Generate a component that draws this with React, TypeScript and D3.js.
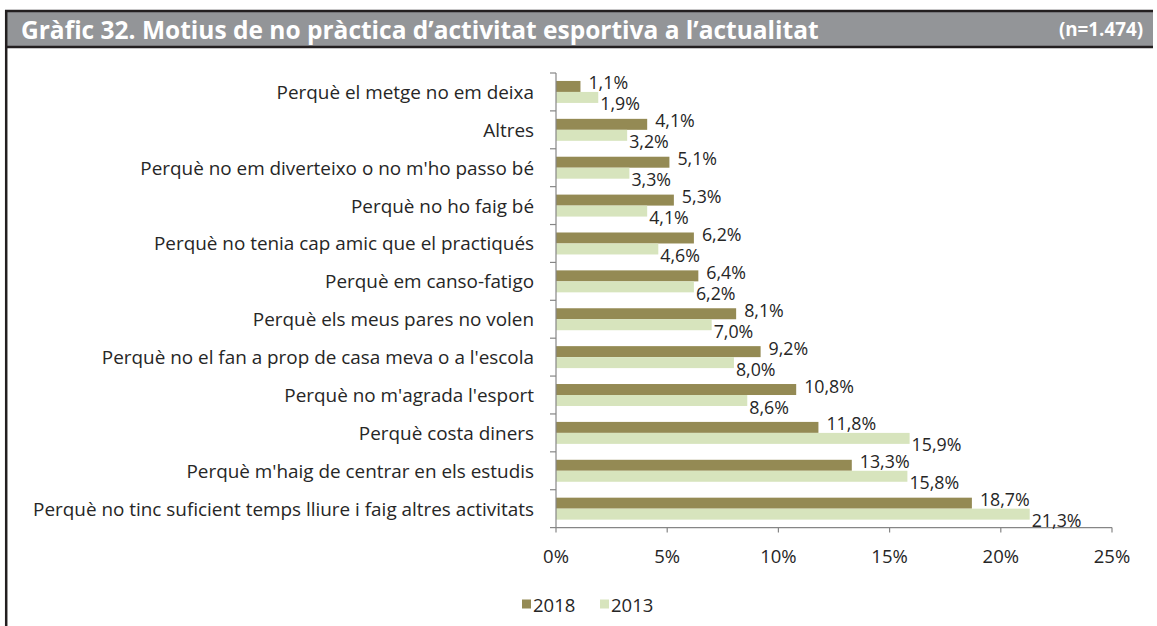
import React from "react";
import * as d3 from "d3";

const categories = [
  "Perquè el metge no em deixa",
  "Altres",
  "Perquè no em diverteixo o no m'ho passo bé",
  "Perquè no ho faig bé",
  "Perquè no tenia cap amic que el practiqués",
  "Perquè em canso-fatigo",
  "Perquè els meus pares no volen",
  "Perquè no el fan a prop de casa meva o a l'escola",
  "Perquè no m'agrada l'esport",
  "Perquè costa diners",
  "Perquè m'haig de centrar en els estudis",
  "Perquè no tinc suficient temps lliure i faig altres activitats",
];
const values2018 = [1.1, 4.1, 5.1, 5.3, 6.2, 6.4, 8.1, 9.2, 10.8, 11.8, 13.3, 18.7];
const values2013 = [1.9, 3.2, 3.3, 4.1, 4.6, 6.2, 7.0, 8.0, 8.6, 15.9, 15.8, 21.3];
const seriesNames = ["2018", "2013"];
const xTicks = [0, 5, 10, 15, 20, 25];
const titleText = "Gràfic 32. Motius de no pràctica d’activitat esportiva a l’actualitat";
const sampleText = "(n=1.474)";

const W = 1157;
const H = 626;
const COLORS: Record<string, string> = { "2018": "#948A54", "2013": "#D7E4BD" };
const FONT = "'Open Sans', sans-serif";
const TEXT = "#262626";
const FS = 18.9;
const FSV = 17.8;

const locale = d3.formatLocale({ decimal: ",", thousands: ".", grouping: [3], currency: ["", "€"] });
const fmt1 = locale.format(".1f");

export default function App() {
  const x = d3.scaleLinear().domain([0, 25]).range([556, 1112]);
  const y = d3.scaleBand().domain(categories).range([73, 527.6]).paddingInner(0.42).paddingOuter(0.21);
  const ySub = d3.scaleBand().domain(seriesNames).range([0, y.bandwidth()]);
  const series: Record<string, number[]> = { "2018": values2018, "2013": values2013 };
  const step = y.step();
  const axisTop = 73;
  const axisBottom = 527.6;
  const boundaries = d3.range(categories.length + 1).map((i) => axisTop + i * step);

  return (
    <div style={{ position: "absolute", left: 0, top: 0 }}>
      <svg width={W} height={H} style={{ display: "block", background: "#fff" }}>
        {/* Title bar */}
        <rect x={5} y={10} width={1148} height={37.5} fill="#939598" />
        <line x1={5} x2={1153} y1={11} y2={11} stroke="#231F20" strokeWidth={2.5} />
        <line x1={5} x2={1153} y1={47} y2={47} stroke="#231F20" strokeWidth={2.5} />
        <line x1={6.2} x2={6.2} y1={10} y2={626} stroke="#231F20" strokeWidth={2.5} />
        <text x={21} y={29} dominantBaseline="central" fill="#fff" fontFamily={FONT} fontWeight={700} fontSize={24.5}>
          {titleText}
        </text>
        <text x={1143} y={29} dominantBaseline="central" textAnchor="end" fill="#fff" fontFamily={FONT} fontWeight={700} fontSize={18.8}>
          {sampleText}
        </text>

        {/* Bars */}
        {seriesNames.map((s) =>
          categories.map((c, i) => (
            <rect
              key={s + c}
              x={x(0)}
              y={(y(c) as number) + (ySub(s) as number)}
              width={x(series[s][i]) - x(0)}
              height={ySub.bandwidth()}
              fill={COLORS[s]}
            />
          ))
        )}

        {/* Axes */}
        <line x1={x(0)} x2={x(0)} y1={axisTop} y2={axisBottom} stroke="#868686" strokeWidth={1.2} />
        {boundaries.map((b, i) => (
          <line key={"yt" + i} x1={x(0) - 6} x2={x(0)} y1={b} y2={b} stroke="#868686" strokeWidth={1.2} />
        ))}
        <line x1={x(0)} x2={x(25)} y1={axisBottom} y2={axisBottom} stroke="#868686" strokeWidth={1.2} />
        {xTicks.map((t) => (
          <g key={"xt" + t}>
            <line x1={x(t)} x2={x(t)} y1={axisBottom} y2={axisBottom + 5} stroke="#868686" strokeWidth={1.2} />
            <text x={x(t)} y={555} textAnchor="middle" dominantBaseline="central" fill={TEXT} fontFamily={FONT} fontSize={18.5}>
              {t + "%"}
            </text>
          </g>
        ))}

        {/* Category labels */}
        {categories.map((c) => (
          <text
            key={"cl" + c}
            x={534}
            y={(y(c) as number) + y.bandwidth() / 2}
            textAnchor="end"
            dominantBaseline="central"
            fill={TEXT}
            fontFamily={FONT}
            fontSize={FS}
          >
            {c}
          </text>
        ))}

        {/* Value labels */}
        {categories.map((c, i) => {
          const y18 = (y(c) as number) + (ySub("2018") as number) + ySub.bandwidth() / 2;
          const y13 = (y(c) as number) + (ySub("2013") as number) + ySub.bandwidth() / 2;
          return (
            <g key={"vl" + c}>
              <text x={x(values2018[i]) + 8} y={y18 - 4} dominantBaseline="central" fill={TEXT} fontFamily={FONT} fontSize={FSV}>
                {fmt1(values2018[i]) + "%"}
              </text>
              <text x={x(values2013[i]) + 2} y={y13 + 6} dominantBaseline="central" fill={TEXT} fontFamily={FONT} fontSize={FSV}>
                {fmt1(values2013[i]) + "%"}
              </text>
            </g>
          );
        })}

        {/* Legend */}
        {seriesNames.map((s, i) => (
          <g key={"lg" + s} transform={`translate(${522 + i * 78},604)`}>
            <rect x={0} y={-4.5} width={9} height={9} fill={COLORS[s]} />
            <text x={11} y={0} dominantBaseline="central" fill={TEXT} fontFamily={FONT} fontSize={18.5}>
              {s}
            </text>
          </g>
        ))}
      </svg>
    </div>
  );
}
